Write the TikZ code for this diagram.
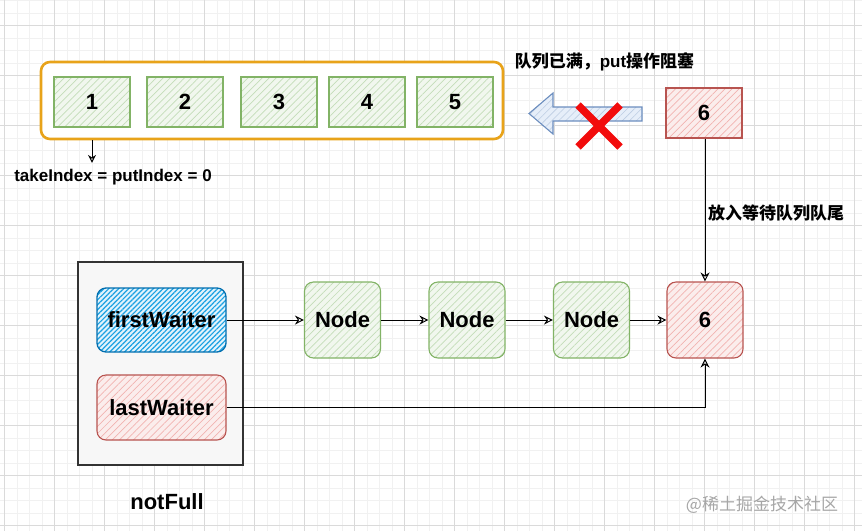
\documentclass[tikz,border=0pt]{standalone}
\usepackage{fontspec}
\setmainfont{Liberation Sans}
\newfontfamily\cjk{Noto Sans CJK SC}
\usetikzlibrary{patterns.meta,arrows.meta}
\definecolor{gmin}{HTML}{F1F1F1}
\definecolor{gmaj}{HTML}{DADADA}
\definecolor{grnS}{HTML}{82B366}
\definecolor{grnF}{HTML}{F1F7EE}
\definecolor{grnH}{HTML}{C3DDB8}
\definecolor{redS}{HTML}{B85450}
\definecolor{redF}{HTML}{FBEDEC}
\definecolor{redH}{HTML}{F2B3B0}
\definecolor{bluS}{HTML}{006EAF}
\definecolor{bluF}{HTML}{E3F3FC}
\definecolor{bluH}{HTML}{1BA1E2}
\definecolor{arrS}{HTML}{6C8EBF}
\definecolor{arrF}{HTML}{E6EEF9}
\definecolor{orng}{HTML}{E8A31A}
\definecolor{xred}{HTML}{F20C0C}
\tikzset{
  big/.style={font=\fontsize{22}{25}\selectfont\bfseries},
  lbl/.style={font=\fontsize{17}{20}\selectfont\bfseries, inner sep=0pt},
  hatch/.style n args={3}{draw=#1, line width=1.1pt,
     preaction={fill=#2},
     pattern={Lines[angle=45,distance=5pt,line width=0.7pt]}, pattern color=#3},
  grn/.style={hatch={grnS}{grnF}{grnH}},
  rd/.style={hatch={redS}{redF}{redH}},
  blu/.style={draw=bluS, line width=1.3pt, preaction={fill=bluF},
     pattern={Lines[angle=45,distance=3.5pt,line width=1.2pt]}, pattern color=bluH},
  cell/.style={grn, big, minimum width=76pt, minimum height=50pt, inner sep=0pt},
  sq/.style={big, minimum width=76pt, minimum height=76pt, inner sep=0pt, rounded corners=9pt},
  conn/.style={line width=1pt, -{Stealth[open,length=9pt,width=9pt]}},
}
\begin{document}
\begin{tikzpicture}[x=1pt,y=-1pt]
\useasboundingbox (0,0) rectangle (862,531);
% background grid
\foreach \k in {0,...,69} {\draw[gmin, line width=0.6pt] ({4.3+12.5*\k},0) -- ({4.3+12.5*\k},531);}
\foreach \k in {0,...,42} {\draw[gmin, line width=0.6pt] (0,{0.7+12.5*\k}) -- (862,{0.7+12.5*\k});}
\foreach \k in {0,...,17} {\draw[gmaj, line width=0.6pt] ({4.3+50*\k},0) -- ({4.3+50*\k},531);}
\foreach \k in {0,...,10} {\draw[gmaj, line width=0.6pt] (0,{25.7+50*\k}) -- (862,{25.7+50*\k});}

% array
\node[draw=orng, line width=2.6pt, fill=white, rounded corners=9pt,
      minimum width=462pt, minimum height=77pt] (q) at (272,100.5) {};
\node[cell] (c1) at (92,102) {1};
\node[cell] (c2) at (185,102) {2};
\node[cell] (c3) at (279,102) {3};
\node[cell] (c4) at (367,102) {4};
\node[cell] (c5) at (455,102) {5};
\node[lbl] (idx) at (113,177) {takeIndex = putIndex = 0};
\draw[line width=1pt, -{Stealth[open,length=8pt,width=8pt]}] (q.south -| c1) -- ([yshift=6pt]idx.north -| c1);

\node[lbl, font=\fontsize{17}{20}\selectfont\cjk\bfseries] (full) at (604.5,62) {队列已满，{\rmfamily put}操作阻塞};

% new element 6
\node[rd, big, minimum width=76pt, minimum height=50pt, inner sep=0pt] (t6) at (704,113) {6};

% hollow blocked arrow
\draw[draw=arrS, line width=1.1pt, preaction={fill=arrF},
      pattern={Lines[angle=45,distance=5pt,line width=0.6pt]}, pattern color=arrS!45]
  (529,113.5) -- (553,93) -- (553,107) -- (642,107) -- (642,121) -- (553,121) -- (553,134) -- cycle;
% red cross
\draw[xred, line width=7.5pt] (578,105) -- (620,147);
\draw[xred, line width=7.5pt] (620,105) -- (578,147);

% waiting queue
\node[draw=black!80, line width=1.3pt, fill=black!3, minimum width=165pt, minimum height=203pt] (nf) at (160.5,363.5) {};
\node[blu, big, minimum width=129pt, minimum height=64pt, inner sep=0pt, rounded corners=9pt] (fw) at (161.5,320) {firstWaiter};
\node[rd, big, minimum width=129pt, minimum height=65pt, inner sep=0pt, rounded corners=9pt] (lw) at (161.5,407.5) {lastWaiter};
\node[big, inner sep=0pt] (nfl) at (167,502) {notFull};

\node[sq, grn] (n1) at (342.5,320) {Node};
\node[sq, grn] (n2) at (467,320) {Node};
\node[sq, grn] (n3) at (591.5,320) {Node};
\node[sq, rd] (b6) at (705,320) {6};

\draw[conn] (fw) -- (n1);
\draw[conn] (n1) -- (n2);
\draw[conn] (n2) -- (n3);
\draw[conn] (n3) -- (b6);
\draw[conn] (lw.east) -| (b6.south);
\draw[conn] (t6.south -| b6) -- (b6.north);
\node[lbl, font=\fontsize{17}{20}\selectfont\cjk\bfseries, anchor=west] (put) at (708,213) {放入等待队列队尾};

% watermark
\node[inner sep=0pt, text=black!35, font=\fontsize{17}{20}\selectfont\cjk] (wm) at (762,505) {@稀土掘金技术社区};
\end{tikzpicture}
\end{document}
